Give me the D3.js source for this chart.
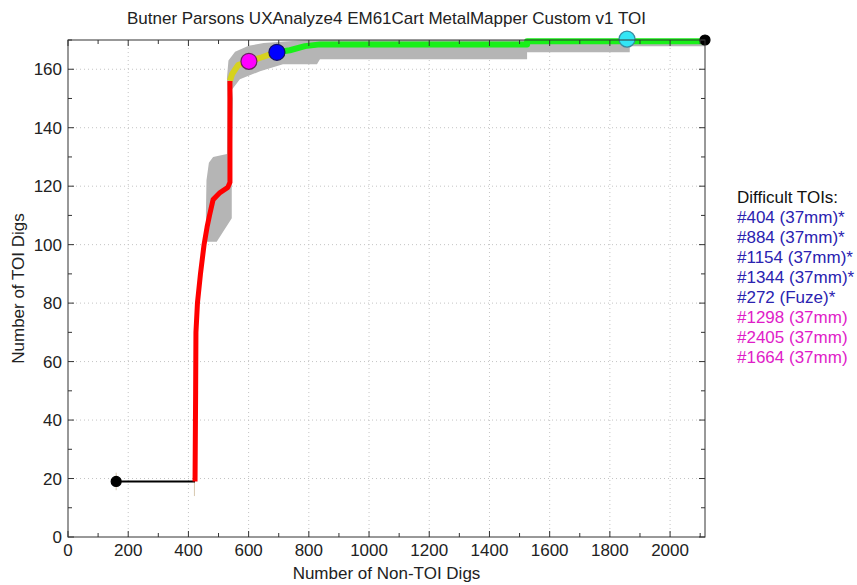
<!DOCTYPE html>
<html><head><meta charset="utf-8">
<script src="https://cdn.jsdelivr.net/npm/d3@7"></script>
<style>body{margin:0;background:#fff}svg{display:block}text{font-family:Arial,"Liberation Sans",sans-serif}</style>
</head><body>
<script>
const title = "Butner Parsons UXAnalyze4 EM61Cart MetalMapper Custom v1 TOI";
const xLabel = "Number of Non-TOI Digs";
const yLabel = "Number of TOI Digs";
const xTicks = [0,200,400,600,800,1000,1200,1400,1600,1800,2000];
const yTicks = [0,20,40,60,80,100,120,140,160];
const xDomain = [0, 2116];
const yDomain = [0, 170];

// curve segments [non-TOI digs, TOI digs]
const blackSeg = [[160,19],[422,19]];
const redSeg = [[422,19],[424,50],[425,70],[430,80],[440,90],[452,100],[462,106],[470,110],[482,115.4],[505,117.8],[531,119.6],[538,121.3],[538,156]];
const yellowSeg = [[538,156],[545,158.3],[565,161.4],[601,162.7],[644,164.1],[671,165.1],[694,165.8]];
const greenSeg = [[694,165.8],[737,166.5],[787,167.9],[837,168.5],[1525,168.5],[1525,169.6],[2116,169.6]];

// uncertainty band outline
const bandUpper = [[462,101],[458,110],[460,122],[468,128],[482,130],[528,131],[530,150],[528,157],[533,163],[555,166],[600,168],[650,169],[720,169.5],[800,170],[2116,170]];
const bandLower = [[2116,167.9],[1866,167.9],[1866,165.8],[1525,165.8],[1525,163.4],[837,163.4],[827,161.7],[714,161.7],[638,159.3],[571,156.6],[545,153.1],[548,150],[544,131],[544,109],[494,101]];

const whiskers = [[420,14,19],[160,16,22]];

const markers = [
  {x:160, y:19, r:5, fill:"#000000", stroke:"#000000"},
  {x:601, y:162.7, r:8, fill:"#ff00ff", stroke:"#6a2060"},
  {x:694, y:165.8, r:8, fill:"#0000ff", stroke:"#101060"},
  {x:1857, y:170.3, r:8, fill:"#33e6f5", stroke:"#3a8aa0"},
  {x:2116, y:170, r:5, fill:"#000000", stroke:"#000000"}
];

const legendTitle = "Difficult TOIs:";
const legendItems = ["#404 (37mm)*","#884 (37mm)*","#1154 (37mm)*","#1344 (37mm)*","#272 (Fuze)*","#1298 (37mm)","#2405 (37mm)","#1664 (37mm)"];
const legendColors = ["#2a22b0","#2a22b0","#2a22b0","#2a22b0","#2a22b0","#e01cc8","#e01cc8","#e01cc8"];

const W = 857, H = 585;
const M = {left:68, right:705, top:40, bottom:537};
const FS = 17;
const svg = d3.select("body").append("svg").attr("width",W).attr("height",H);
const x = d3.scaleLinear().domain(xDomain).range([M.left, M.right]);
const y = d3.scaleLinear().domain(yDomain).range([M.bottom, M.top]);

// grid
const g = svg.append("g");
g.selectAll(".gx").data(xTicks.filter(d=>d>0)).join("line")
  .attr("x1",d=>x(d)).attr("x2",d=>x(d)).attr("y1",M.top).attr("y2",M.bottom)
  .attr("stroke","#c4c4c4").attr("stroke-width",1).attr("stroke-dasharray","1,3");
g.selectAll(".gy").data(yTicks.filter(d=>d>0)).join("line")
  .attr("y1",d=>y(d)).attr("y2",d=>y(d)).attr("x1",M.left).attr("x2",M.right)
  .attr("stroke","#c4c4c4").attr("stroke-width",1).attr("stroke-dasharray","1,3");

// band
const bandPts = bandUpper.concat(bandLower);
svg.append("path").attr("d", d3.line().x(d=>x(d[0])).y(d=>y(d[1]))(bandPts)+"Z")
  .attr("fill","#b5b5b5").attr("stroke","none");

// whiskers
svg.selectAll(".wh").data(whiskers).join("line")
  .attr("x1",d=>x(d[0])).attr("x2",d=>x(d[0])).attr("y1",d=>y(d[1])).attr("y2",d=>y(d[2]))
  .attr("stroke","#d8c8b0").attr("stroke-width",1);

const line = d3.line().x(d=>x(d[0])).y(d=>y(d[1]));
svg.append("path").attr("d",line(blackSeg)).attr("fill","none").attr("stroke","#000").attr("stroke-width",2);
svg.append("path").attr("d",line(greenSeg)).attr("fill","none").attr("stroke","#19f019").attr("stroke-width",6).attr("stroke-linejoin","round");
svg.append("path").attr("d",line(yellowSeg)).attr("fill","none").attr("stroke","#d6d21e").attr("stroke-width",6).attr("stroke-linejoin","round");
svg.append("path").attr("d",line(redSeg)).attr("fill","none").attr("stroke","#ff0000").attr("stroke-width",5).attr("stroke-linejoin","round");

svg.selectAll(".mk").data(markers).join("circle")
  .attr("cx",d=>x(d.x)).attr("cy",d=>y(d.y)).attr("r",d=>d.r)
  .attr("fill",d=>d.fill).attr("stroke",d=>d.stroke).attr("stroke-width",1.2);

// axes box with inward ticks
const xMinor = d3.range(0, 2101, 100);
const yMinor = d3.range(0, 171, 10);
const ax = svg.append("g").attr("stroke","#333").attr("stroke-width",1);
ax.append("rect").attr("x",M.left).attr("y",M.top).attr("width",M.right-M.left).attr("height",M.bottom-M.top).attr("fill","none");
xMinor.forEach(v=>{
  const len = xTicks.includes(v)?6:4;
  ax.append("line").attr("x1",x(v)).attr("x2",x(v)).attr("y1",M.bottom).attr("y2",M.bottom-len);
  ax.append("line").attr("x1",x(v)).attr("x2",x(v)).attr("y1",M.top).attr("y2",M.top+len);
});
yMinor.forEach(v=>{
  const len = yTicks.includes(v)?6:4;
  ax.append("line").attr("y1",y(v)).attr("y2",y(v)).attr("x1",M.left).attr("x2",M.left+len);
  ax.append("line").attr("y1",y(v)).attr("y2",y(v)).attr("x1",M.right).attr("x2",M.right-len);
});

svg.selectAll(".xt").data(xTicks).join("text")
  .attr("x",d=>x(d)).attr("y",M.bottom+19).attr("text-anchor","middle")
  .attr("font-size",FS).attr("fill","#222").text(d=>d);
svg.selectAll(".yt").data(yTicks).join("text")
  .attr("x",M.left-6).attr("y",d=>y(d)+6).attr("text-anchor","end")
  .attr("font-size",FS).attr("fill","#222").text(d=>d);

svg.append("text").attr("x",(M.left+M.right)/2).attr("y",24).attr("text-anchor","middle")
  .attr("font-size",FS).attr("fill","#222").text(title);
svg.append("text").attr("x",(M.left+M.right)/2).attr("y",579).attr("text-anchor","middle")
  .attr("font-size",FS).attr("fill","#222").text(xLabel);
svg.append("text").attr("transform",`translate(24,${(M.top+M.bottom)/2}) rotate(-90)`).attr("text-anchor","middle")
  .attr("font-size",FS).attr("fill","#222").text(yLabel);

const lg = svg.append("g").attr("transform","translate(737,0)");
lg.append("text").attr("x",0).attr("y",203).attr("font-size",FS).attr("fill","#111").text(legendTitle);
lg.selectAll(".li").data(legendItems).join("text")
  .attr("x",0).attr("y",(d,i)=>223+i*20).attr("font-size",FS)
  .attr("fill",(d,i)=>legendColors[i]).text(d=>d);
</script>
</body></html>
